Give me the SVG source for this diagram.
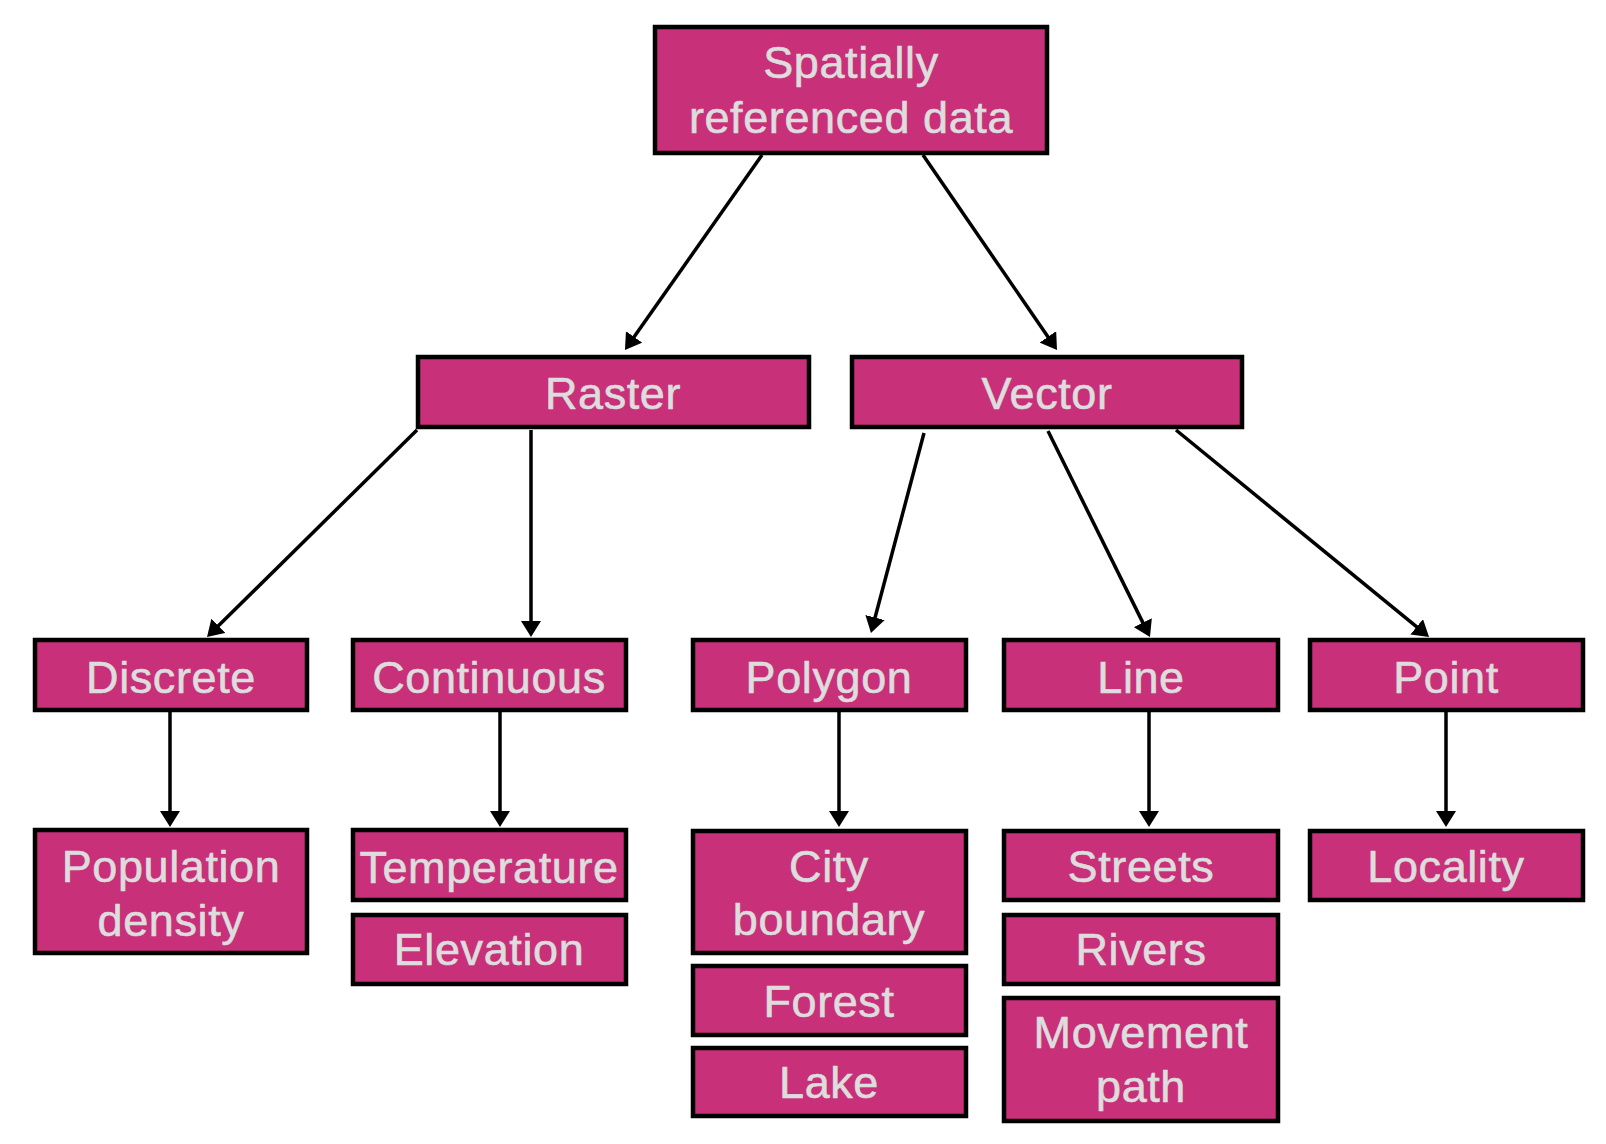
<svg xmlns="http://www.w3.org/2000/svg" width="1606" height="1144" viewBox="0 0 1606 1144">
<style>
.box{fill:#C8307A;stroke:#000;stroke-width:4.5}
.lbl{font-family:"Liberation Sans",Arial,Helvetica,sans-serif;font-size:45px;letter-spacing:0.6px;fill:#DDDDDD;stroke:#DDDDDD;stroke-width:0.6;text-anchor:middle}
.edge{stroke:#000;stroke-width:3.5;fill:none;marker-end:url(#arr)}
</style>
<defs>
<marker id="arr" markerUnits="userSpaceOnUse" markerWidth="16" markerHeight="20" refX="10" refY="10" orient="auto" viewBox="0 0 16 20">
<path d="M0,0 L16,10 L0,20 z" fill="#000"/>
</marker>
</defs>
<rect width="1606" height="1144" fill="#fff"/>
<g id="connectors">
<line class="edge" x1="762" y1="155" x2="628.4" y2="345.1"/>
<line class="edge" x1="923" y1="155" x2="1053.6" y2="345.1"/>
<line class="edge" x1="417" y1="430" x2="211.3" y2="632.8"/>
<line class="edge" x1="531" y1="430" x2="531" y2="631"/>
<line class="edge" x1="924" y1="433" x2="872.5" y2="627.2"/>
<line class="edge" x1="1048" y1="431" x2="1147.3" y2="631.6"/>
<line class="edge" x1="1176" y1="430" x2="1424.4" y2="633.2"/>
<line class="edge" x1="170" y1="712" x2="170" y2="821"/>
<line class="edge" x1="500" y1="712" x2="500" y2="821"/>
<line class="edge" x1="839" y1="712" x2="839" y2="821"/>
<line class="edge" x1="1149" y1="712" x2="1149" y2="821"/>
<line class="edge" x1="1446" y1="712" x2="1446" y2="821"/>
</g>
<g id="n-spatial"><rect class="box" x="655" y="27" width="392" height="126"/><text class="lbl" x="851" y="78">Spatially</text><text class="lbl" x="851" y="133">referenced data</text></g>
<g id="n-raster"><rect class="box" x="418" y="357" width="391" height="70"/><text class="lbl" x="613" y="409">Raster</text></g>
<g id="n-vector"><rect class="box" x="852" y="357" width="390" height="70"/><text class="lbl" x="1047" y="409">Vector</text></g>
<g id="n-discrete"><rect class="box" x="35" y="640" width="272" height="70"/><text class="lbl" x="171" y="693">Discrete</text></g>
<g id="n-continuous"><rect class="box" x="353" y="640" width="273" height="70"/><text class="lbl" x="489" y="693">Continuous</text></g>
<g id="n-polygon"><rect class="box" x="693" y="640" width="273" height="70"/><text class="lbl" x="829" y="693">Polygon</text></g>
<g id="n-line"><rect class="box" x="1004" y="640" width="274" height="70"/><text class="lbl" x="1141" y="693">Line</text></g>
<g id="n-point"><rect class="box" x="1310" y="640" width="273" height="70"/><text class="lbl" x="1446" y="693">Point</text></g>
<g id="n-popdensity"><rect class="box" x="35" y="830" width="272" height="123"/><text class="lbl" x="171" y="882">Population</text><text class="lbl" x="171" y="936">density</text></g>
<g id="n-temperature"><rect class="box" x="353" y="830" width="273" height="70"/><text class="lbl" x="489" y="883">Temperature</text></g>
<g id="n-elevation"><rect class="box" x="353" y="915" width="273" height="69"/><text class="lbl" x="489" y="965">Elevation</text></g>
<g id="n-cityboundary"><rect class="box" x="693" y="831" width="273" height="122"/><text class="lbl" x="829" y="882">City</text><text class="lbl" x="829" y="935">boundary</text></g>
<g id="n-forest"><rect class="box" x="693" y="966" width="273" height="69"/><text class="lbl" x="829" y="1017">Forest</text></g>
<g id="n-lake"><rect class="box" x="693" y="1048" width="273" height="68"/><text class="lbl" x="829" y="1098">Lake</text></g>
<g id="n-streets"><rect class="box" x="1004" y="831" width="274" height="69"/><text class="lbl" x="1141" y="882">Streets</text></g>
<g id="n-rivers"><rect class="box" x="1004" y="915" width="274" height="69"/><text class="lbl" x="1141" y="965">Rivers</text></g>
<g id="n-movementpath"><rect class="box" x="1004" y="998" width="274" height="123"/><text class="lbl" x="1141" y="1048">Movement</text><text class="lbl" x="1141" y="1102">path</text></g>
<g id="n-locality"><rect class="box" x="1310" y="831" width="273" height="69"/><text class="lbl" x="1446" y="882">Locality</text></g>
</svg>
